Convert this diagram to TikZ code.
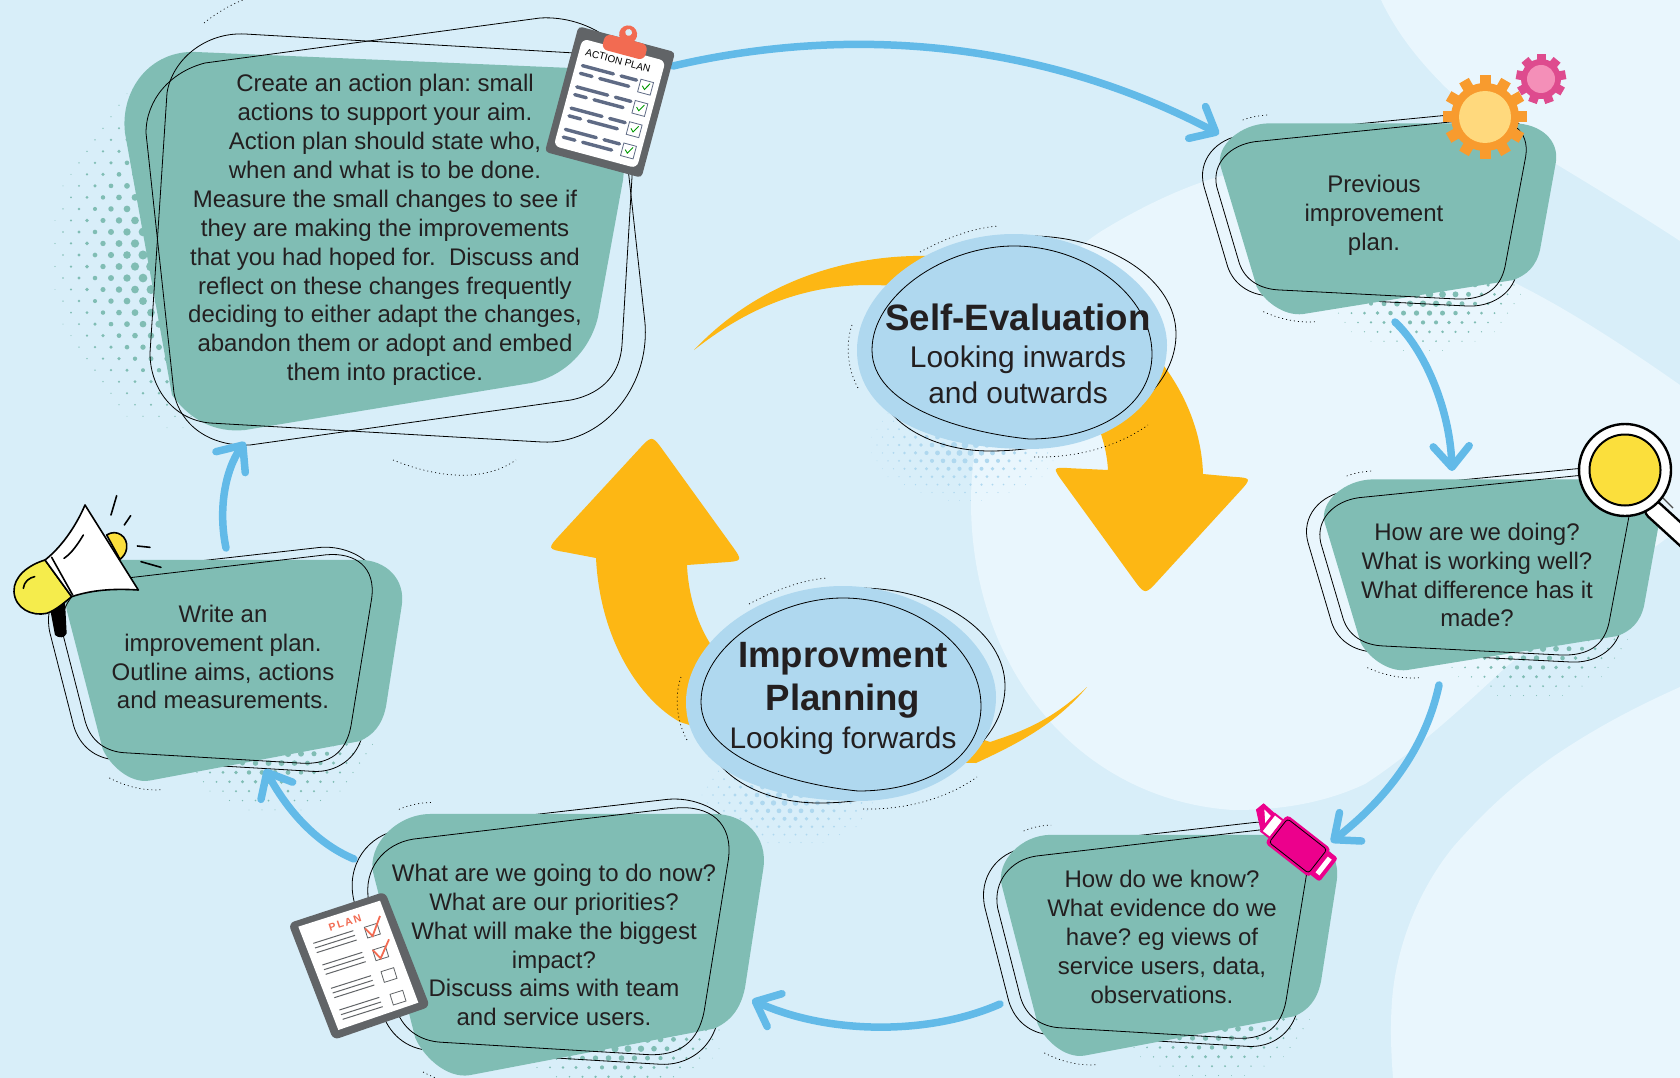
\documentclass[tikz,border=0pt]{standalone}
\usepackage{fontspec}
\setmainfont{Liberation Sans}
\usetikzlibrary{arrows.meta}

\definecolor{skybase}{HTML}{D8EEF9}
\definecolor{skylight}{HTML}{E9F6FD}
\definecolor{tealblob}{HTML}{80BDB4}
\definecolor{ovalblue}{HTML}{AFD8EF}
\definecolor{arrowblue}{HTML}{62BAE8}
\definecolor{bigarrow}{HTML}{FDB714}
\definecolor{inktext}{HTML}{231F20}
\definecolor{boardgrey}{HTML}{616467}
\definecolor{listgrey}{HTML}{5F6B85}
\definecolor{clipred}{HTML}{F26B52}
\definecolor{pen}{HTML}{EC008C}
\definecolor{sunyellow}{HTML}{FBDF3C}
\definecolor{hornyellow}{HTML}{F5EC4C}
\definecolor{cogorange}{HTML}{F89B2E}
\definecolor{hubcream}{HTML}{FFD97D}
\definecolor{cogpink}{HTML}{DE4B8E}
\definecolor{hubpink}{HTML}{F48FB8}

\tikzset{
  boxtext/.style={align=center,text=inktext,font=\fontsize{24}{28.9}\selectfont\frenchspacing},
  ovaltext/.style={align=center,text=inktext},
  scribble/.style={draw=black,line width=0.8pt},
  dotline/.style={draw=black,line width=0.7pt,dash pattern=on 1pt off 3pt},
  flow/.style={draw=arrowblue,line width=7.5pt,line cap=round,line join=round,-{Straight Barb[round,length=21pt,width=36pt,line width=7.5pt]}},
  horn/.style={draw=black,line width=1.6pt,line join=round,line cap=round},
}

\newcommand{\dotpatch}[7]{
  \foreach \i in {-12,...,12}{
    \foreach \j in {-20,...,20}{
      \pgfmathsetmacro{\dotu}{(\i+0.5*mod(abs(\j),2))*#7}
      \pgfmathsetmacro{\dotv}{\j*0.72*#7}
      \pgfmathsetmacro{\dotr}{#5*(1-sqrt((\dotu/#3)^2+(\dotv/#4)^2))}
      \pgfmathparse{\dotr>0.3 ? 1 : 0}
      \ifnum\pgfmathresult=1
        \fill[#6] (#1+\dotu,#2+\dotv) circle (\dotr);
      \fi
    }
  }
}

\newcommand{\planbox}[4]{
  \begin{scope}[shift={(#1,#2)},xscale=#3/3,yscale=#4/3]
    \draw[scribble] (190,405) -- (880,338) .. controls (980,330) and (1085,390) .. (1070,480) -- (1010,820) .. controls (995,885) and (930,922) .. (860,918) -- (270,888) .. controls (205,885) and (160,850) .. (143,800) -- (72,560) .. controls (50,480) and (110,415) .. (190,405) -- cycle;
    \fill[tealblob] (270,370) -- (1000,370) .. controls (1080,370) and (1140,420) .. (1127,490) -- (1080,750) .. controls (1068,800) and (1040,825) .. (1000,840) -- (370,942) .. controls (310,950) and (250,900) .. (230,860) -- (122,500) .. controls (105,440) and (180,370) .. (270,370) -- cycle;
    \draw[scribble] (225,425) -- (900,357) .. controls (990,350) and (1050,390) .. (1037,470) -- (975,800) .. controls (960,870) and (910,900) .. (830,897) -- (300,870) .. controls (240,868) and (195,840) .. (178,790) -- (110,560) .. controls (95,490) and (150,435) .. (225,425) -- cycle;
    \draw[dotline] (188,360) .. controls (215,350) and (245,345) .. (270,345);
    \draw[dotline] (250,935) .. controls (300,958) and (360,970) .. (410,965);
  \end{scope}
}

\newcommand{\ovalblob}[2]{
  \begin{scope}[shift={(#1,#2)}]
    \draw[scribble] (1030,236) .. controls (1110,236) and (1176,280) .. (1176,334) .. controls (1176,400) and (1090,451) .. (990,451) .. controls (930,451) and (880,420) .. (876,380) .. controls (880,300) and (950,245) .. (1030,236) -- cycle;
    \fill[ovalblue] (1014,234) .. controls (1095,234) and (1167,290) .. (1167,345) .. controls (1167,405) and (1105,449) .. (1029,449) .. controls (940,449) and (857,420) .. (857,350) .. controls (857,290) and (930,234) .. (1014,234) -- cycle;
    \draw[scribble] (1014,246) .. controls (1085,246) and (1152,295) .. (1152,354) .. controls (1152,405) and (1100,439) .. (1029,439) .. controls (960,432) and (872,405) .. (872,350) .. controls (872,295) and (945,246) .. (1014,246) -- cycle;
    \draw[dotline] (920,252) .. controls (950,236) and (975,228) .. (998,226);
    \draw[dotline] (852,325) .. controls (845,345) and (848,370) .. (858,388);
    \draw[dotline] (1034,457) .. controls (1080,458) and (1120,445) .. (1148,425);
  \end{scope}
}

\newcommand{\cogwheel}[9]{
  \foreach \a in {0,#6,...,359}
    \fill[#8,rotate around={\a:(#1,#2)}] (#1-#7,#2-#3) rectangle (#1+#7,#2);
  \fill[#8] (#1,#2) circle (#4);
  \fill[#9] (#1,#2) circle (#5);
}

\begin{document}
\begin{tikzpicture}[x=1pt,y=-1pt]
  \useasboundingbox (0,0) rectangle (1680,1078);
  \clip (0,0) rectangle (1680,1078);
  \fill[skybase] (0,0) rectangle (1680,1078);
  \fill[skylight] (1381,0) .. controls (1400,40) and (1430,75) .. (1470,110) .. controls (1530,150) and (1610,195) .. (1680,241) -- (1680,0) -- cycle;
  \fill[skylight] (971,502) .. controls (971,400) and (1020,285) .. (1100,232) .. controls (1160,195) and (1230,165) .. (1290,165) .. controls (1380,190) and (1450,250) .. (1513,282) .. controls (1570,310) and (1630,350) .. (1680,385) -- (1680,529) .. controls (1620,570) and (1560,625) .. (1506,667) .. controls (1460,710) and (1410,755) .. (1365,784) .. controls (1320,805) and (1275,810) .. (1233,810) .. controls (1080,800) and (971,670) .. (971,502) -- cycle;
  \fill[skylight] (1393,1078) .. controls (1390,1040) and (1390,1005) .. (1395,976) .. controls (1405,920) and (1430,875) .. (1454,846) .. controls (1490,805) and (1520,780) .. (1554,756) .. controls (1600,725) and (1640,705) .. (1680,687) -- (1680,1078) -- cycle;

  \dotpatch{175}{255}{132}{185}{6}{tealblob}{16}
  \dotpatch{1423}{285}{108}{72}{4.4}{tealblob}{13}
  \dotpatch{1530}{630}{108}{75}{4.4}{tealblob}{13}
  \dotpatch{1212}{1010}{108}{75}{4.4}{tealblob}{13}
  \dotpatch{615}{1030}{118}{65}{5}{tealblob}{13}
  \dotpatch{275}{735}{108}{85}{4.4}{tealblob}{13}
  \dotpatch{965}{445}{104}{62}{3.4}{ovalblue}{11}
  \dotpatch{790}{795}{100}{58}{3.4}{ovalblue}{11}

  \planbox{1180}{0}{1}{1}
  \planbox{1284}{356}{1}{1}
  \planbox{961}{692}{1}{1.158}
  \planbox{26}{417}{1}{1.158}
  \planbox{326}{645}{1.164}{1.37}

  \fill[tealblob] (196,52) -- (571,68) .. controls (610,70) and (630,120) .. (623,180) -- (598,317) .. controls (590,350) and (565,376) .. (531,383) -- (245,430) .. controls (215,433) and (190,420) .. (172,395) -- (125,133) .. controls (120,90) and (150,50) .. (196,52) -- cycle;
  \draw[scribble] (245,34) -- (575,53) .. controls (600,55) and (620,100) .. (629,177) -- (645,323) .. controls (650,390) and (600,445) .. (542,442) -- (210,423) .. controls (175,420) and (150,390) .. (150,353) -- (167,93) .. controls (172,60) and (205,32) .. (245,34) -- cycle;
  \draw[scribble] (540,18) -- (205,63) .. controls (170,72) and (146,100) .. (146,133) -- (174,393) .. controls (180,425) and (210,447) .. (250,445) -- (571,400) .. controls (605,393) and (620,372) .. (622,345) -- (632,177) -- (636,90) .. controls (638,50) and (590,15) .. (540,18) -- cycle;
  \draw[dotline] (204,23) .. controls (218,12) and (230,5) .. (243,0);
  \draw[dotline] (393,460) .. controls (430,475) and (480,485) .. (516,460);

  \fill[bigarrow] (694,350) .. controls (760,280) and (850,254) .. (930,256) .. controls (1100,262) and (1200,370) .. (1203,474) -- (1232,476.7) .. controls (1252,478) .. (1238.5,492.8) -- (1158.5,580.2) .. controls (1145,595) .. (1133.2,578.8) -- (1063.8,483.2) .. controls (1052,467) .. (1072,468.3) -- (1108,470) .. controls (1103,380) and (1000,285) .. (870,285) .. controls (800,285) and (745,310) .. (694,350) -- cycle;
  \fill[bigarrow] (1087,687) .. controls (1050,722) and (1020,732) .. (990,742) -- (711,645) .. controls (695,620) and (688,590) .. (687,565) -- (723,562.4) .. controls (743,561) .. (731.3,544.8) -- (663.7,451.2) .. controls (652,435) .. (638.5,449.7) -- (560.5,534.3) .. controls (547,549) .. (566.7,552.4) -- (596,558) .. controls (600,640) and (640,700) .. (680,722) -- (800,760) -- (976,763) .. controls (1015,745) and (1055,725) .. (1087,687) -- cycle;

  \ovalblob{0}{0}
  \ovalblob{-171}{352}

  \node[ovaltext,font=\fontsize{29.9}{35.5}\selectfont] (selfeval) at (1018,354) {{\fontsize{36.7}{36}\selectfont\bfseries Self-Evaluation}\\[1.5pt]Looking inwards\\and outwards};
  \node[ovaltext,font=\fontsize{29.8}{38}\selectfont] (planning) at (843,698) {{\fontsize{36.6}{38}\selectfont\bfseries Improvment}\\[5pt]{\fontsize{36.6}{38}\selectfont\bfseries Planning}\\Looking forwards};

  \node[boxtext] (prevplan) at (1374,215) {Previous\\improvement\\plan.};
  \node[boxtext] (howdoing) at (1477,575) {How are we doing?\\What is working well?\\What difference has it\\made?};
  \node[boxtext] (howknow) at (1162,937) {How do we know?\\What evidence do we\\have? eg views of\\service users, data,\\observations.};
  \node[boxtext] (nextsteps) at (554,945) {What are we going to do now?\\What are our priorities?\\What will make the biggest\\impact?\\Discuss aims with team\\and service users.};
  \node[boxtext] (writeplan) at (223,657) {Write an\\improvement plan.\\Outline aims, actions\\and measurements.};
  \node[boxtext] (actionplan) at (385,230) {Create an action plan: small\\actions to support your aim.\\Action plan should state who,\\when and what is to be done.\\Measure the small changes to see if\\they are making the improvements\\that you had hoped for.\ \ Discuss and\\reflect on these changes frequently\\deciding to either adapt the changes,\\abandon them or adopt and embed\\them into practice.};

  \coordinate (actionout) at (673,66);
  \coordinate (previn) at (1219,134);
  \coordinate (prevout) at (1395,322);
  \coordinate (doingin) at (1452,471);
  \coordinate (doingout) at (1439,685);
  \coordinate (knowin) at (1331,842);
  \coordinate (knowout) at (1000,1004);
  \coordinate (nextin) at (752,1000);
  \coordinate (nextout) at (354,859);
  \coordinate (writein) at (265,769);
  \coordinate (writeout) at (226,548);
  \coordinate (actionin) at (245,442);

  \draw[flow] (actionout) .. controls (870,20) and (1060,50) .. (previn);
  \draw[flow] (prevout) .. controls (1425,350) and (1450,410) .. (doingin);
  \draw[flow] (doingout) .. controls (1425,750) and (1385,800) .. (knowin);
  \draw[flow] (knowout) .. controls (930,1035) and (830,1035) .. (nextin);
  \draw[flow] (nextout) .. controls (320,845) and (290,815) .. (writein);
  \draw[flow] (writeout) .. controls (218,510) and (225,470) .. (actionin);

  \cogwheel{1541}{79}{25}{20}{14}{40}{4.5}{cogpink}{hubpink}
  \cogwheel{1485}{117}{42}{34}{26}{30}{5.5}{cogorange}{hubcream}

  \begin{scope}[shift={(610,102)},rotate=-15]
    \fill[boardgrey,rounded corners=4pt] (-50,-65) rectangle (50,65);
    \fill[white,rounded corners=6pt] (-43,-54) rectangle (43,57);
    \fill[clipred] (0,-70) circle (9);
    \fill[clipred,rounded corners=6pt] (-22,-65) rectangle (22,-49);
    \fill[skybase] (0,-72) circle (3.4);
    \node[rotate=-15,font=\fontsize{10}{12}\selectfont] (actionlabel) at (-3,-42) {ACTION PLAN};
    \foreach \r in {-24,-2,20,42}{
      \draw[listgrey,line width=3.4pt,line cap=round] (-36,\r-4) -- (-4,\r-4) (4,\r-4) -- (20,\r-4) (-36,\r+4) -- (-24,\r+4) (-16,\r+4) -- (14,\r+4);
      \draw[listgrey,fill=white,line width=0.8pt] (24,\r-6) rectangle (37,\r+7);
      \draw[green!60!black,line width=0.9pt] (27,\r) -- (30,\r+3) -- (34,\r-4);
    }
  \end{scope}

  \begin{scope}[shift={(270,780)},scale=1/3]
    \fill[boardgrey,rounded corners=6pt] (55,430) -- (345,335) -- (480,680) -- (190,780) -- cycle;
    \fill[white] (85,440) -- (330,362) -- (445,668) -- (205,750) -- cycle;
    \node[rotate=18,text=clipred,font=\fontsize{10.5}{12}\bfseries\selectfont] (planlabel) at (225,428) {P\,L\,A\,N};
    \foreach \q/\w in {130/490,157/555,183/625,208/690}{
      \draw[boardgrey,line width=1pt] (\q,\w) -- (\q+120,\w-38) (\q+5,\w+14) -- (\q+125,\w-24) (\q+10,\w+28) -- (\q+130,\w-10);
    }
    \foreach \q/\w in {305/452,330/520,355/585,382/653}{
      \draw[boardgrey,line width=0.8pt,fill=white] (\q-22,\w-10) -- (\q+16,\w-22) -- (\q+26,\w+10) -- (\q-12,\w+22) -- cycle;
    }
    \draw[clipred,line width=1.8pt] (285,445) -- (308,468) -- (330,408);
    \draw[clipred,line width=1.8pt] (308,510) -- (332,535) -- (357,478);
  \end{scope}

  \begin{scope}[shift={(1298,846)},rotate=-38]
    \draw[pen,fill=pen,line width=1pt] (-38,-11) -- (-53,-12) -- (-55,-3) -- (-38,11) -- cycle;
    \fill[white] (-49,-8) -- (-40,-7) -- (-40,2) -- cycle;
    \draw[pen,fill=white,line width=2pt] (-38,-11) rectangle (-27,11);
    \draw[pen,fill=pen,line width=2pt,rounded corners=2pt] (27,-14) rectangle (38,14);
    \fill[white] (30,-10) rectangle (35,10);
    \fill[pen,rounded corners=4pt] (-28,-18) rectangle (28,18);
    \draw[black,line width=0.8pt,rounded corners=3pt] (-25,-15) rectangle (25,15);
  \end{scope}

  \draw[black,line width=20pt,line cap=round] (1654,510) -- (1700,552);
  \draw[white,line width=15pt,line cap=round] (1654,510) -- (1700,552);
  \draw[black!70,line width=1.2pt] (1662,497) -- (1673,508);
  \draw[black,fill=white,line width=2.4pt] (1625,470) circle (46);
  \draw[black,fill=sunyellow,line width=2pt] (1625,470) circle (35.5);

  \begin{scope}[shift={(0,480)},scale=1/3]
    \draw[horn,fill=sunyellow] (320,165) .. controls (350,145) and (385,170) .. (380,205) .. controls (378,220) and (370,230) .. (360,238) -- cycle;
    \fill[black] (150,385) -- (165,465) .. controls (175,475) and (195,475) .. (200,460) -- (195,365) -- cycle;
    \draw[horn,fill=hornyellow] (135,240) .. controls (85,255) and (40,290) .. (42,335) .. controls (45,385) and (95,410) .. (140,400) .. controls (165,392) and (190,370) .. (215,350) -- cycle;
    \draw[horn,fill=white] (135,240) .. controls (180,205) and (225,145) .. (255,75) -- (415,330) .. controls (340,325) and (275,330) .. (215,350) -- cycle;
    \draw[horn] (155,232) -- (218,345);
    \draw[horn] (192,235) .. controls (215,220) and (235,190) .. (250,165);
    \draw[horn] (70,325) .. controls (72,305) and (88,293) .. (104,290);
    \draw[horn] (333,105) -- (350,47);
    \draw[horn] (373,135) -- (392,107);
    \draw[horn] (412,198) -- (450,202);
    \draw[horn] (423,245) -- (483,262);
  \end{scope}
\end{tikzpicture}
\end{document}
